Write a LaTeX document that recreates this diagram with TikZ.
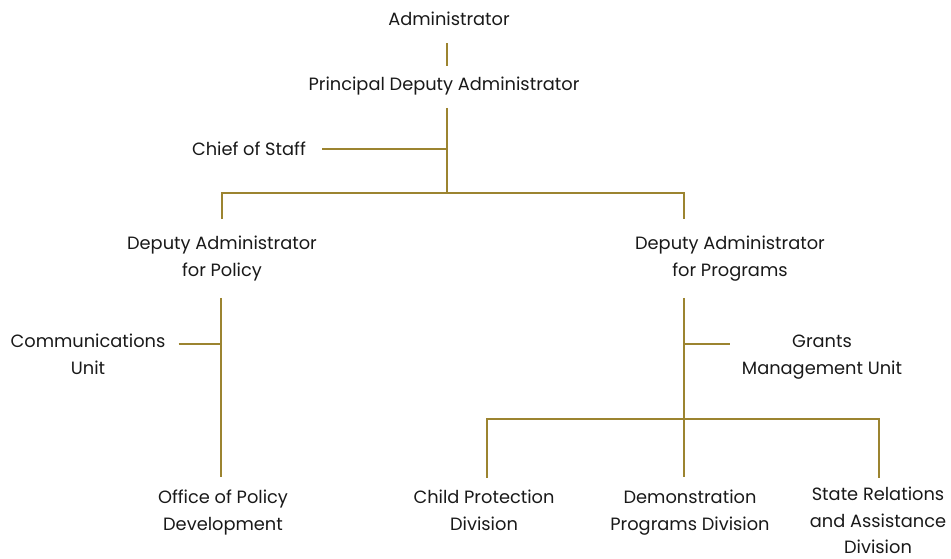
\documentclass[tikz,border=0pt]{standalone}
\usepackage{fontspec}
\newfontfamily\lblfont{Poppins}
\definecolor{gold}{RGB}{156,132,48}
\newcommand{\st}{\rule[-4pt]{0pt}{17pt}}
\begin{document}
\begin{tikzpicture}[x=1pt,y=-1pt,
  lbl/.style={font=\lblfont\fontsize{17.8}{27}\selectfont, align=center, inner sep=0pt, text=black!90},
  conn/.style={draw=gold, line width=2.6pt}]
\useasboundingbox (0,0) rectangle (951,558);
\node[lbl] (adm) at (449,21) {\st Administrator};
\node[lbl] (pda) at (444,86) {\st Principal Deputy Administrator};
\node[lbl] (cos) at (249,151) {\st Chief of Staff};
\node[lbl] (dap) at (222,258.5) {\st Deputy Administrator\\\st for Policy};
\node[lbl] (dapr) at (730,258.5) {\st Deputy Administrator\\\st for Programs};
\node[lbl] (comm) at (88,356.5) {\st Communications\\\st Unit};
\node[lbl] (grants) at (822,356.5) {\st Grants\\\st Management Unit};
\node[lbl] (opd) at (223,512.5) {\st Office of Policy\\\st Development};
\node[lbl] (cpd) at (484,512.5) {\st Child Protection\\\st Division};
\node[lbl] (dpd) at (690,512.5) {\st Demonstration\\\st Programs Division};
\node[lbl, font=\lblfont\fontsize{17.8}{26.3}\selectfont] (srd) at (878,522.5) {\st State Relations\\\st and Assistance\\\st Division};
\coordinate (j0) at (447,149);
\coordinate (j1) at (447,193);
\coordinate (j2) at (684,193);
\coordinate (jc) at (221,344);
\coordinate (jg) at (684,344);
\coordinate (j3) at (684,419);
\coordinate (j4) at (487,419);
\coordinate (j5) at (879,419);
\draw[conn, shorten <=13.5pt, shorten >=10.5pt] (adm.south -| j1) -- (pda.north -| j1);
\draw[conn, shorten <=12.5pt] (pda.south -| j1) -- (j1);
\draw[conn, shorten <=16pt] (j0 -| cos.east) -- (j0);
\draw[conn, shorten <=16.5pt, shorten >=16.5pt, line join=miter] (dap.north) |- (j1) -- (j2) -- (j2 |- dapr.north);
\draw[conn, shorten <=16.5pt, shorten >=12.5pt] (dap.south -| jc) -- (jc |- opd.north);
\draw[conn, shorten <=13pt] (jc -| comm.east) -- (jc);
\draw[conn, shorten <=16.5pt] (dapr.south -| j2) -- (j3);
\draw[conn, shorten >=12pt] (jg) -- (jg -| grants.west);
\draw[conn, shorten <=12.5pt, shorten >=12.5pt, line join=miter] (j4 |- cpd.north) -- (j4) -- (j5) -- (j5 |- cpd.north);
\draw[conn, shorten >=12.5pt] (j3) -- (j3 |- dpd.north);
\end{tikzpicture}
\end{document}
